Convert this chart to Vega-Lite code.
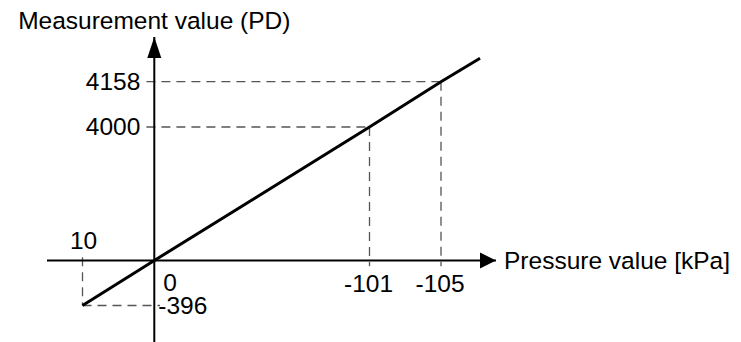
{
  "$schema": "https://vega.github.io/schema/vega-lite/v6.json",
  "width": 741,
  "height": 342,
  "autosize": "none",
  "padding": 0,
  "background": "white",
  "config": {"view": {"stroke": null}, "text": {"font": "Liberation Sans", "fontSize": 24.5, "color": "black"}},
  "datasets": {
    "curve": [
      {"p": 10, "pd": -396},
      {"p": 0, "pd": 0},
      {"p": -101, "pd": 4000},
      {"p": -105, "pd": 4158},
      {"p": -107.2, "pd": 4240}
    ],
    "guides": [
      {"p": 1.1, "pd": 4158, "p2": -105, "pd2": 4158},
      {"p": 1.1, "pd": 4000, "p2": -101, "pd2": 4000},
      {"p": -101, "pd": 4000, "p2": -101, "pd2": -50},
      {"p": -105, "pd": 4158, "p2": -105, "pd2": -50},
      {"p": 10, "pd": 100, "p2": 10, "pd2": -396},
      {"p": 10, "pd": -396, "p2": -2.7, "pd2": -396}
    ],
    "axes": [
      {"axis": "x", "p": 15, "pd": 0, "p2": -108.1, "pd2": 0},
      {"axis": "y", "p": 0, "pd": -717, "p2": 0, "pd2": 4314}
    ],
    "labels": [
      {"text": "4158", "p": 0, "pd": 4158, "kind": "ytick"},
      {"text": "4000", "p": 0, "pd": 4000, "kind": "ytick"},
      {"text": "10", "p": 10, "pd": 0, "kind": "xtick-above"},
      {"text": "0", "p": 0, "pd": 0, "kind": "origin"},
      {"text": "-396", "p": 0, "pd": -396, "kind": "ytick-neg"},
      {"text": "-101", "p": -101, "pd": 0, "kind": "xtick"},
      {"text": "-105", "p": -105, "pd": 0, "kind": "xtick"},
      {"text": "Pressure value [kPa]", "p": -108.1, "pd": 0, "kind": "xtitle"},
      {"text": "Measurement value (PD)", "p": 0, "pd": 4314, "kind": "ytitle"}
    ]
  },
  "encoding": {
    "x": {"field": "p", "type": "quantitative", "axis": null,
      "scale": {"domain": [-108.1, -105, -101, 0, 10, 15], "range": [496, 441, 369.5, 154.3, 82.5, 47], "zero": false, "nice": false}},
    "y": {"field": "pd", "type": "quantitative", "axis": null,
      "scale": {"domain": [-717, -396, 0, 4000, 4158, 4314], "range": [342, 305.5, 260.5, 127, 81.7, 37], "zero": false, "nice": false}}
  },
  "layer": [
    {
      "data": {"name": "guides"},
      "mark": {"type": "rule", "color": "#555555", "strokeWidth": 1.3, "strokeDash": [9, 6]},
      "encoding": {"x2": {"field": "p2"}, "y2": {"field": "pd2"}}
    },
    {
      "data": {"name": "axes"},
      "mark": {"type": "rule", "color": "black", "strokeWidth": 2},
      "encoding": {"x2": {"field": "p2"}, "y2": {"field": "pd2"}}
    },
    {
      "data": {"name": "curve"},
      "mark": {"type": "line", "color": "black", "strokeWidth": 3},
      "encoding": {}
    },
    {
      "data": {"name": "axes"},
      "transform": [{"filter": "datum.axis === 'x'"}],
      "mark": {"type": "point", "filled": true, "color": "black", "opacity": 1, "strokeWidth": 0, "size": 256, "shape": "M-2,-1L0,0L-2,1Z"},
      "encoding": {"x": {"field": "p2", "type": "quantitative"}, "y": {"field": "pd2", "type": "quantitative"}}
    },
    {
      "data": {"name": "axes"},
      "transform": [{"filter": "datum.axis === 'y'"}],
      "mark": {"type": "point", "filled": true, "color": "black", "opacity": 1, "strokeWidth": 0, "size": 196, "shape": "M0,0L1,3L-1,3Z"},
      "encoding": {"x": {"field": "p2", "type": "quantitative"}, "y": {"field": "pd2", "type": "quantitative"}}
    },
    {
      "data": {"name": "labels"},
      "transform": [{"filter": "datum.kind === 'ytick'"}],
      "mark": {"type": "text", "align": "right", "baseline": "alphabetic", "dx": -14, "dy": 8},
      "encoding": {"text": {"field": "text"}}
    },
    {
      "data": {"name": "labels"},
      "transform": [{"filter": "datum.kind === 'xtick-above'"}],
      "mark": {"type": "text", "align": "center", "baseline": "alphabetic", "dx": 1, "dy": -11.5},
      "encoding": {"text": {"field": "text"}}
    },
    {
      "data": {"name": "labels"},
      "transform": [{"filter": "datum.kind === 'origin'"}],
      "mark": {"type": "text", "align": "left", "baseline": "alphabetic", "dx": 9, "dy": 30},
      "encoding": {"text": {"field": "text"}}
    },
    {
      "data": {"name": "labels"},
      "transform": [{"filter": "datum.kind === 'ytick-neg'"}],
      "mark": {"type": "text", "align": "left", "baseline": "alphabetic", "dx": 4, "dy": 8.5},
      "encoding": {"text": {"field": "text"}}
    },
    {
      "data": {"name": "labels"},
      "transform": [{"filter": "datum.kind === 'xtick'"}],
      "mark": {"type": "text", "align": "center", "baseline": "alphabetic", "dx": -1, "dy": 31},
      "encoding": {"text": {"field": "text"}}
    },
    {
      "data": {"name": "labels"},
      "transform": [{"filter": "datum.kind === 'xtitle'"}],
      "mark": {"type": "text", "align": "left", "baseline": "alphabetic", "dx": 8, "dy": 8.5},
      "encoding": {"text": {"field": "text"}}
    },
    {
      "data": {"name": "labels"},
      "transform": [{"filter": "datum.kind === 'ytitle'"}],
      "mark": {"type": "text", "align": "center", "baseline": "alphabetic", "dx": 0, "dy": -8},
      "encoding": {"text": {"field": "text"}}
    }
  ]
}
